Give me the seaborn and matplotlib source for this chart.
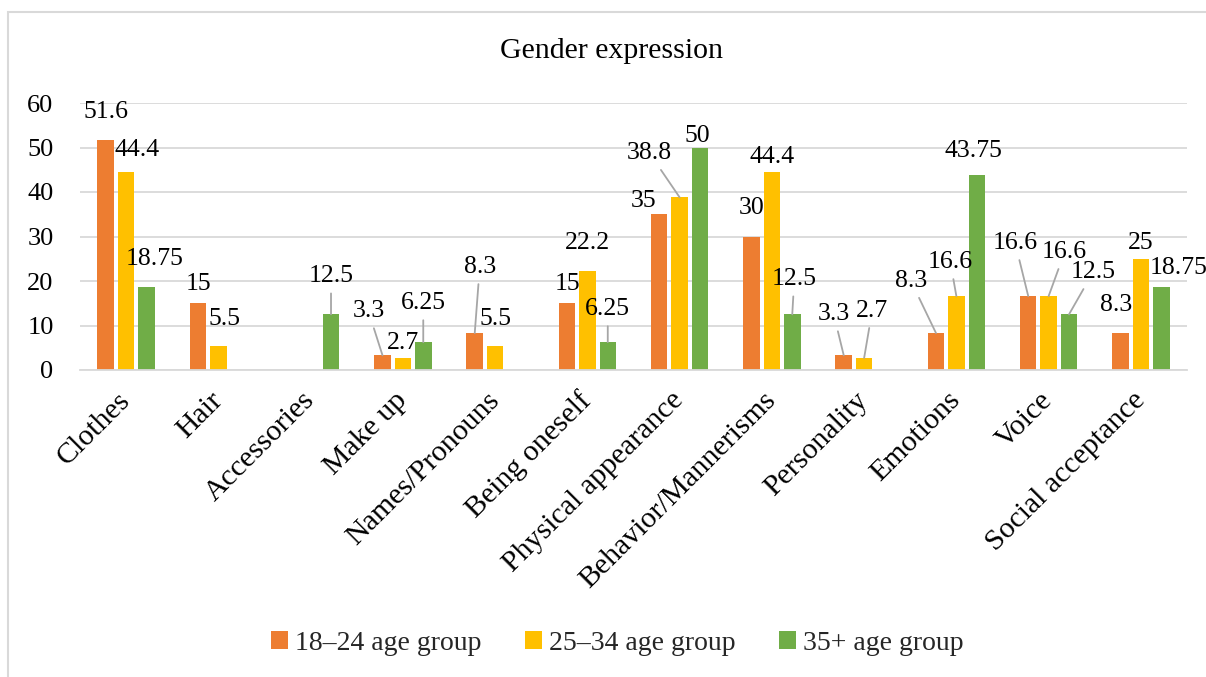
import numpy as np
import pandas as pd
import matplotlib
matplotlib.use("Agg")
import matplotlib.pyplot as plt
from matplotlib.patches import Rectangle
import seaborn as sns

# ---------------- data ----------------
categories = ["Clothes", "Hair", "Accessories", "Make up", "Names/Pronouns",
              "Being oneself", "Physical appearance", "Behavior/Mannerisms",
              "Personality", "Emotions", "Voice", "Social acceptance"]
series_names = ["18\u201324 age group", "25\u201334 age group", "35+ age group"]
age_18_24 = [51.6, 15, np.nan, 3.3, 8.3, 15, 35, 30, 3.3, 8.3, 16.6, 8.3]
age_25_34 = [44.4, 5.5, np.nan, 2.7, 5.5, 22.2, 38.8, 44.4, 2.7, 16.6, 16.6, 25]
age_35_plus = [18.75, np.nan, 12.5, 6.25, np.nan, 6.25, 50, 12.5, np.nan, 43.75, 12.5, 18.75]
y_ticks = [0, 10, 20, 30, 40, 50, 60]
title = "Gender expression"

colors = ["#ED7D31", "#FFC000", "#70AD47"]

# label placement (pixel offsets from bar top centre, leader line flag)
label_style = {
    (0, 0): (0, 28, False), (1, 0): (11, 22, False), (2, 0): (8, 28, False),
    (0, 1): (0, 19, False), (1, 1): (6, 27, False),
    (2, 2): (0, 38, True),
    (0, 3): (-14, 44, True), (1, 3): (0, 15, False), (2, 3): (0, 39, True),
    (0, 4): (5, 66, True), (1, 4): (0, 27, False),
    (0, 5): (0, 19, False), (1, 5): (0, 28, False), (2, 5): (0, 33, True),
    (0, 6): (-16, 13, False), (1, 6): (-30, 44, True), (2, 6): (-3, 11, False),
    (0, 7): (0, 29, False), (1, 7): (0, 15, False), (2, 7): (2, 35, True),
    (0, 8): (-10, 41, True), (1, 8): (8, 47, True),
    (0, 9): (-25, 52, True), (1, 9): (-6, 34, True), (2, 9): (-3, 24, False),
    (0, 10): (-13, 53, True), (1, 10): (16, 44, True), (2, 10): (24, 42, True),
    (0, 11): (-4, 28, False), (1, 11): (0, 16, False), (2, 11): (17, 19, False),
}

rows = []
for name, vals in zip(series_names, [age_18_24, age_25_34, age_35_plus]):
    for c, v in zip(categories, vals):
        rows.append({"category": c, "group": name, "value": v})
df = pd.DataFrame(rows).dropna()

# ---------------- figure ----------------
sns.set_theme(style="white")
plt.rcParams["font.family"] = ["Liberation Serif", "DejaVu Serif"]

W, H = 1206, 677
fig = plt.figure(figsize=(W / 100, H / 100), dpi=100)
ax = fig.add_axes([80 / W, 1 - 370 / H, (1187 - 80) / W, (370 - 103) / H])

sns.barplot(data=df, x="category", y="value", hue="group",
            order=categories, hue_order=series_names, palette=colors,
            saturation=1, width=0.663, gap=0.19, linewidth=0,
            errorbar=None, ax=ax)

handles, labels = ax.get_legend_handles_labels()
if ax.get_legend() is not None:
    ax.get_legend().remove()

ax.set_ylim(0, 60)
ax.set_xlim(-0.5, len(categories) - 0.5)
ax.set_yticks(y_ticks)
ax.set_xlabel("")
ax.set_ylabel("")
ax.yaxis.grid(True, color="#d9d9d9", lw=1.3)
ax.set_axisbelow(True)
for s in ["left", "right", "top"]:
    ax.spines[s].set_visible(False)
ax.spines["bottom"].set_color("#d9d9d9")
ax.spines["bottom"].set_linewidth(1.3)
ax.tick_params(axis="y", length=0, pad=19, labelsize=19, labelcolor="#000000")
ax.tick_params(axis="x", length=0, pad=19, labelsize=21.5, labelcolor="#000000")
for lab in ax.get_xticklabels():
    lab.set_rotation(45)
    lab.set_ha("right")
    lab.set_va("center")
    lab.set_rotation_mode("anchor")

# data labels
for si, cont in enumerate(ax.containers):
    for bar in cont:
        h = bar.get_height()
        if not np.isfinite(h):
            continue
        xc = bar.get_x() + bar.get_width() / 2
        ci = int(round(xc))
        dx, dy, leader = label_style.get((si, ci), (0, 16, False))
        kw = {}
        if leader:
            kw["arrowprops"] = dict(arrowstyle="-", color="#a6a6a6", lw=1.3,
                                    shrinkA=2, shrinkB=0)
        ax.annotate(f"{h:g}", xy=(xc, h), xytext=(dx, dy),
                    textcoords="offset pixels", ha="center", va="center",
                    fontsize=18.5, color="#000000", **kw)

# title
fig.text(611 / W, 1 - 51 / H, title, ha="center", va="center",
         fontsize=21.5, color="#000000")

# legend
fig.legend(handles, labels, loc="center", bbox_to_anchor=(617.5 / W, 1 - 643 / H),
           ncol=3, frameon=False, fontsize=20, handlelength=0.6,
           handleheight=0.6, handletextpad=0.27, columnspacing=1.55)

# outer border
fig.add_artist(Rectangle((8 / W, -0.1), 1.2, 0.1 + (1 - 12 / H),
                         transform=fig.transFigure, fill=False,
                         edgecolor="#d9d9d9", lw=1.5))

fig.savefig("out.png", dpi=100)
